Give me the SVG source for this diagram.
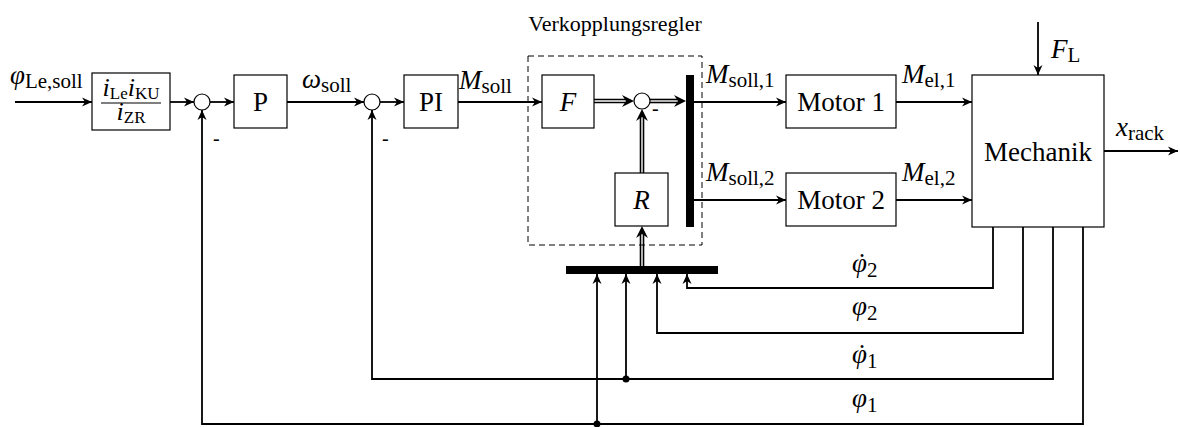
<svg xmlns="http://www.w3.org/2000/svg" width="1180" height="427" viewBox="0 0 1180 427">
<style>
.ln{fill:none;stroke:#000;stroke-width:1.8}
.box{fill:#fff;stroke:#000;stroke-width:1.2}
.sum{fill:#fff;stroke:#000;stroke-width:1.2}
.dl{fill:none;stroke:#000;stroke-width:4.6}
.dw{fill:none;stroke:#fff;stroke-width:1.4}
.t{font-family:"Liberation Serif","Times New Roman",serif;font-size:27px;fill:#000}
.i{font-style:italic}
.s{font-size:21px;font-style:normal}
.c{text-anchor:middle}
</style>
<defs>
<marker id="ar" viewBox="-11 -6 12 12" refX="0" refY="0" markerWidth="12" markerHeight="12" markerUnits="userSpaceOnUse" orient="auto">
<path d="M0,0 L-10,-4.5 L-7,0 L-10,4.5 Z" fill="#000"/>
</marker>
</defs>
<rect width="1180" height="427" fill="#fff"/>

<g id="connectors">
<path class="ln" d="M15,102 H92" marker-end="url(#ar)"/>
<path class="ln" d="M170,102 H194" marker-end="url(#ar)"/>
<path class="ln" d="M210,102 H234" marker-end="url(#ar)"/>
<path class="ln" d="M287,102 H364" marker-end="url(#ar)"/>
<path class="ln" d="M380,102 H404" marker-end="url(#ar)"/>
<path class="ln" d="M458,102 H542" marker-end="url(#ar)"/>
<path class="ln" d="M694,102 H786" marker-end="url(#ar)"/>
<path class="ln" d="M694,200 H786" marker-end="url(#ar)"/>
<path class="ln" d="M896,102 H972" marker-end="url(#ar)"/>
<path class="ln" d="M896,200 H972" marker-end="url(#ar)"/>
<path class="ln" d="M1104,151 H1178" marker-end="url(#ar)"/>
<path class="ln" d="M1038,22 V75" marker-end="url(#ar)"/>
<path class="dl" d="M594,101 H628"/><path class="dw" d="M594,101 H630"/>
<path d="M634,101 L622,95 L626,101 L622,107 Z" fill="#000"/>
<path class="dl" d="M650,101 H680"/><path class="dw" d="M650,101 H682"/>
<path d="M686,101 L674,95 L678,101 L674,107 Z" fill="#000"/>
<path class="dl" d="M642,173 V115"/><path class="dw" d="M642,173 V113"/>
<path d="M642,109 L636,121 L642,117 L648,121 Z" fill="#000"/>
<path class="dl" d="M642,266 V232"/><path class="dw" d="M642,266 V230"/>
<path d="M642,226 L636,238 L642,234 L648,238 Z" fill="#000"/>
<path class="ln" d="M993,227 V288 H687 V274" marker-end="url(#ar)"/>
<path class="ln" d="M1023,227 V333 H657 V274" marker-end="url(#ar)"/>
<path class="ln" d="M1053,227 V379 H372 V110" marker-end="url(#ar)"/>
<path class="ln" d="M626,379 V274" marker-end="url(#ar)"/>
<path class="ln" d="M1083,227 V424 H202 V110" marker-end="url(#ar)"/>
<path class="ln" d="M597,424 V274" marker-end="url(#ar)"/>
<circle cx="626" cy="379" r="3.5" fill="#000"/>
<circle cx="597" cy="424" r="3.5" fill="#000"/>
</g>

<g id="verkopplungsregler">
<rect x="528" y="56" width="174" height="189" fill="none" stroke="#000" stroke-width="1" stroke-dasharray="6,4"/>
<text class="t c" x="615" y="31" style="font-size:22px">Verkopplungsregler</text>
</g>

<g id="input-label">
<text class="t" x="10" y="84"><tspan class="i">φ</tspan><tspan class="s" dy="4">Le,soll</tspan></text>
</g>

<g id="gain">
<rect class="box" x="92" y="73" width="78" height="57"/>
<text class="t c" x="131" y="96" style="font-size:26px"><tspan class="i">i</tspan><tspan class="s" style="font-size:17px" dy="3">Le</tspan><tspan class="i" dy="-3">i</tspan><tspan class="s" style="font-size:17px" dy="3">KU</tspan></text>
<path d="M101,103 H161" stroke="#000" stroke-width="1.2"/>
<text class="t c" x="131" y="120" style="font-size:26px"><tspan class="i">i</tspan><tspan class="s" style="font-size:17px" dy="3">ZR</tspan></text>
</g>

<g id="sum1">
<circle class="sum" cx="202" cy="102" r="8"/>
<text class="t" x="213" y="145" style="font-size:20px">-</text>
</g>

<g id="P">
<rect class="box" x="234" y="75" width="53" height="53"/>
<text class="t c" x="260.5" y="111">P</text>
</g>

<g id="omega-label">
<text class="t" x="302" y="88"><tspan class="i">ω</tspan><tspan class="s" dy="4">soll</tspan></text>
</g>

<g id="sum2">
<circle class="sum" cx="372" cy="102" r="8"/>
<text class="t" x="382" y="145" style="font-size:20px">-</text>
</g>

<g id="PI">
<rect class="box" x="404" y="75" width="54" height="53"/>
<text class="t c" x="431" y="111">PI</text>
</g>

<g id="msoll-label">
<text class="t" x="459" y="89"><tspan class="i">M</tspan><tspan class="s" dy="4">soll</tspan></text>
</g>

<g id="F">
<rect class="box" x="542" y="75" width="52" height="53"/>
<text class="t c i" x="568" y="111">F</text>
</g>

<g id="sum3">
<circle class="sum" cx="642" cy="101" r="8"/>
<text class="t" x="652" y="115" style="font-size:20px">-</text>
</g>

<g id="R">
<rect class="box" x="615" y="173" width="53" height="53"/>
<text class="t c i" x="641.5" y="209">R</text>
</g>

<g id="bar">
<rect x="686" y="75" width="8" height="152" fill="#000"/>
</g>

<g id="bus">
<rect x="566" y="266" width="152" height="8" fill="#000"/>
</g>

<g id="motor1">
<rect class="box" x="786" y="75" width="110" height="53"/>
<text class="t c" x="841" y="111">Motor 1</text>
<text class="t" x="706" y="83"><tspan class="i">M</tspan><tspan class="s" dy="4">soll,1</tspan></text>
<text class="t" x="902" y="83"><tspan class="i">M</tspan><tspan class="s" dy="4">el,1</tspan></text>
</g>

<g id="motor2">
<rect class="box" x="786" y="173" width="110" height="53"/>
<text class="t c" x="841" y="209">Motor 2</text>
<text class="t" x="706" y="181"><tspan class="i">M</tspan><tspan class="s" dy="4">soll,2</tspan></text>
<text class="t" x="902" y="181"><tspan class="i">M</tspan><tspan class="s" dy="4">el,2</tspan></text>
</g>

<g id="mechanik">
<rect class="box" x="972" y="75" width="132" height="152"/>
<text class="t c" x="1038" y="161">Mechanik</text>
<text class="t" x="1051" y="58"><tspan class="i">F</tspan><tspan class="s" dy="4">L</tspan></text>
<text class="t" x="1116" y="136"><tspan class="i">x</tspan><tspan class="s" dy="4">rack</tspan></text>
</g>

<g id="feedback-labels">
<text class="t" x="852" y="272"><tspan class="i">φ</tspan><tspan class="s" dy="5">2</tspan></text>
<text class="t c" x="862" y="272">˙</text>
<text class="t" x="852" y="315"><tspan class="i">φ</tspan><tspan class="s" dy="5">2</tspan></text>
<text class="t" x="852" y="363"><tspan class="i">φ</tspan><tspan class="s" dy="5">1</tspan></text>
<text class="t c" x="862" y="363">˙</text>
<text class="t" x="852" y="407"><tspan class="i">φ</tspan><tspan class="s" dy="5">1</tspan></text>
</g>
</svg>
